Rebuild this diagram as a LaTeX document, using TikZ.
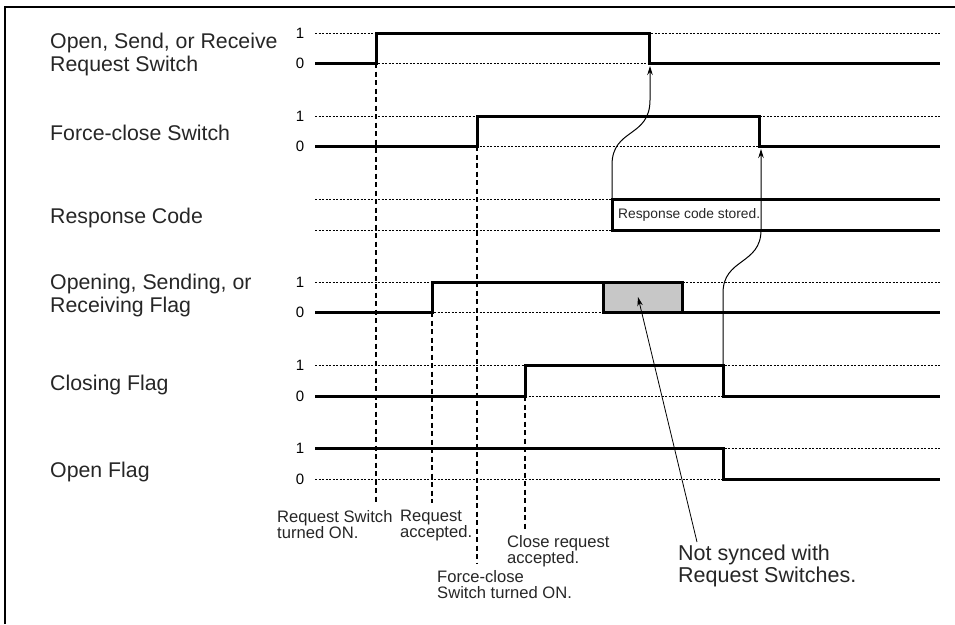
\documentclass[tikz,border=0pt]{standalone}
\usepackage{fontspec}
\setmainfont{Liberation Sans}
\usetikzlibrary{arrows.meta}
\begin{document}
\begin{tikzpicture}[x=1pt,y=-1pt,
  sig/.style={line width=3pt, line join=miter},
  ref/.style={line width=0.9pt, dash pattern=on 2.2pt off 1.3pt},
  guide/.style={line width=1.2pt, dash pattern=on 5pt off 3.5pt},
  lbl/.style={anchor=base west, inner sep=0, align=left, font=\fontsize{21.3}{22.5}\selectfont, text=black!85},
  note/.style={anchor=base west, inner sep=0, align=left, font=\fontsize{16.6}{15.5}\selectfont, text=black!85},
  bignote/.style={anchor=base west, inner sep=0, align=left, font=\fontsize{21.5}{20}\selectfont, text=black!85},
  lvl/.style={inner sep=0, font=\fontsize{15}{15}\selectfont},
  arr/.style={line width=1pt, -{Stealth[length=9pt,width=5.5pt]}}]
\useasboundingbox (0,0) rectangle (955,624);
% frame
\draw[line width=1.3pt] (5,624) -- (5,7) -- (955,7);

% left labels
\node[lbl] (l1) at (50,71) {Open, Send, or Receive\\Request Switch};
\node[lbl] (l2) at (50,140) {Force-close Switch};
\node[lbl] (l3) at (50,223) {Response Code};
\node[lbl] (l4) at (50,312) {Opening, Sending, or\\Receiving Flag};
\node[lbl] (l5) at (50,390) {Closing Flag};
\node[lbl] (l6) at (50,477) {Open Flag};

% level labels
\foreach \n/\hy/\ly in {1/33/63, 2/116/146, 4/282/312, 5/365/396, 6/448/479}{
  \node[lvl] (h\n) at (300,\hy) {1};
  \node[lvl] (z\n) at (300,\ly) {0};
}

% reference lines
\foreach \hy/\ly in {33/63, 116/146, 282/312, 365/396, 448/479}{
  \draw[ref] (315,\hy) -- (940,\hy);
  \draw[ref] (315,\ly) -- (940,\ly);
}
\draw[ref] (315,199) -- (612,199);
\draw[ref] (315,230) -- (612,230);

% guide lines
\draw[guide] (376,63) -- (376,503);
\draw[guide] (432,312) -- (432,503);
\draw[guide] (477,146) -- (477,563);
\draw[guide] (525,396) -- (525,530);

% signals
\draw[sig] (315,63) -- (376,63) -- (376,33) -- (649,33) -- (649,63) -- (940,63);
\draw[sig] (315,146) -- (477,146) -- (477,116) -- (759,116) -- (759,146) -- (940,146);
\draw[sig] (940,199) -- (612,199) -- (612,230) -- (940,230);
\node[anchor=base west, inner sep=0, font=\fontsize{13.8}{13.8}\selectfont, text=black!85] (rc) at (618,218) {Response code stored.};
\filldraw[sig, fill=black!22] (603,282) rectangle (682,312);
\draw[sig] (315,312) -- (432,312) -- (432,282) -- (682,282) -- (682,312) -- (940,312);
\draw[sig] (315,396) -- (525,396) -- (525,365) -- (723,365) -- (723,396) -- (940,396);
\draw[sig] (315,448) -- (723,448) -- (723,479) -- (940,479);

% bottom notes
\node[note] (n1) at (277,538) {Request Switch\\turned ON.};
\node[note] (n2) at (400,537) {Request\\accepted.};
\node[note] (n3) at (507,563) {Close request\\accepted.};
\node[note] (n4) at (437,598) {Force-close\\Switch turned ON.};
\node[bignote] (n5) at (678,582) {Not synced with\\Request Switches.};

% arrows
\coordinate (a1s) at (612,199);
\coordinate (a1t) at (650,66);
\draw[arr] (a1s) -- (612,165) .. controls (612,128) and (650,138) .. (650,100) -- (a1t);
\coordinate (a2s) at (723,365);
\coordinate (a2t) at (761,149);
\draw[arr] (a2s) -- (723,293) .. controls (723,258) and (761,265) .. (761,230) -- (a2t);
\coordinate (a3s) at (697,542);
\coordinate (a3t) at (638,297);
\draw[line width=0.8pt, -{Stealth[length=9pt,width=5.5pt]}] (a3s) -- (a3t);
\end{tikzpicture}
\end{document}
